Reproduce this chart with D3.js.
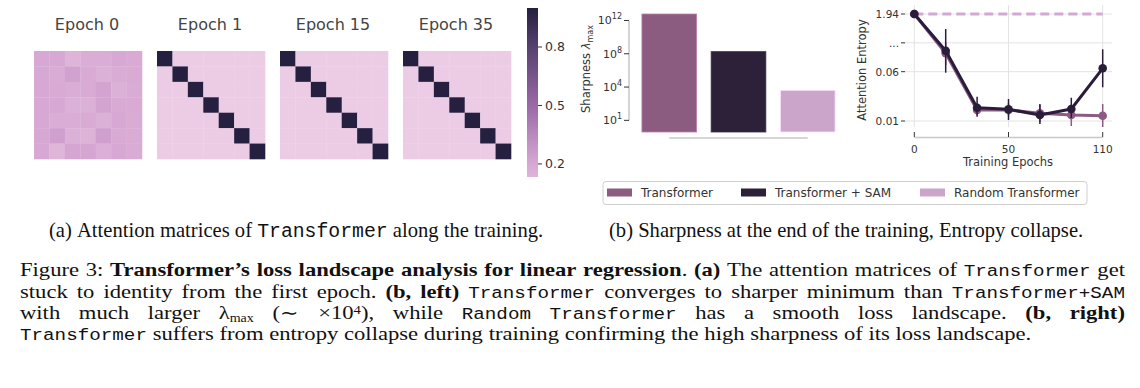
<!DOCTYPE html>
<html><head><meta charset="utf-8">
<script src="https://cdn.jsdelivr.net/npm/d3@7"></script>
<style>body{margin:0;background:#fff} svg{display:block}</style>
</head><body><svg id="fig" width="1140" height="388"></svg>
<script>
// ---------------- DATA ----------------
const heatTitles = ["Epoch 0", "Epoch 1", "Epoch 15", "Epoch 35"];
const attnEpoch0 = [
  [0.20,0.20,0.13,0.17,0.17,0.20,0.19],
  [0.20,0.18,0.23,0.19,0.15,0.18,0.19],
  [0.20,0.19,0.17,0.19,0.22,0.15,0.18],
  [0.20,0.20,0.15,0.15,0.22,0.19,0.19],
  [0.20,0.17,0.17,0.19,0.15,0.20,0.18],
  [0.20,0.24,0.15,0.14,0.24,0.19,0.18],
  [0.20,0.12,0.21,0.21,0.16,0.20,0.18]
];
const attnEpoch1 = [
  [1,0,0,0,0,0,0],[0,1,0,0,0,0,0],[0,0,1,0,0,0,0],[0,0,0,1,0,0,0],
  [0,0,0,0,1,0,0],[0,0,0,0,0,1,0],[0,0,0,0,0,0,1]
];
const attnEpoch15 = [
  [1,0,0,0,0,0,0],[0,1,0,0,0,0,0],[0,0,1,0,0,0,0],[0,0,0,1,0,0,0],
  [0,0,0,0,1,0,0],[0,0,0,0,0,1,0],[0,0,0,0,0,0,1]
];
const attnEpoch35 = [
  [1,0,0,0,0,0,0],[0,1,0,0,0,0,0],[0,0,1,0,0,0,0],[0,0,0,1,0,0,0],
  [0,0,0,0,1,0,0],[0,0,0,0,0,1,0],[0,0,0,0,0,0,1]
];
const colorbarDomain = [0.133, 1.0];
const colorbarTicks = [0.2, 0.5, 0.8];

const models = ["Transformer", "Transformer + SAM", "Random Transformer"];
const sharpness = [6.0e12, 1.8e8, 4.1e3];
const sharpTickValues = [1, 1e4, 1e8, 1e12];
const sharpTickExponents = ["1", "4", "8", "12"];

const epochs = [0, 15, 35, 50, 70, 90, 110];
const entropyTransformer   = [1.94, 0.66, 0.0212, 0.0212, 0.0178, 0.0161, 0.0154];
const entropyTransformerLo = [1.94, 0.278, 0.0161, 0.0150, 0.0090, 0.0049, 0.0039];
const entropyTransformerHi = [1.94, 1.005, 0.0283, 0.0280, 0.0262, 0.0252, 0.0272];
const entropySAM   = [1.94, 0.744, 0.0235, 0.0219, 0.0161, 0.0222, 0.171];
const entropySAMLo = [1.94, 0.059, 0.0144, 0.0110, 0.0070, 0.0130, 0.0442];
const entropySAMHi = [1.94, 1.451, 0.0346, 0.0323, 0.0272, 0.0336, 0.79];
const entropyRandom = [1.94, 1.94, 1.94, 1.94, 1.94, 1.94, 1.94];
const entropyTickValues = [1.94, 1.0, 0.06, 0.01];
const entropyTickLabels = ["1.94", "...", "0.06", "0.01"];
const epochTickValues = [0, 50, 110];

// ---------------- STYLE ----------------
const svg = d3.select("#fig");
svg.append("rect").attr("width",1140).attr("height",388).attr("fill","#fff");
const SANS = "DejaVu Sans";
const textCol = "#333";
const modelColors = ["#8b5b80", "#2d2039", "#cba5ca"];
const lineColors  = ["#8c5a82", "#2a1d3b", "#d4a8d4"];

const heatColor = d3.scaleLinear()
  .domain([0, 0.2, 0.5, 0.8, 1.0])
  .range(["#eccbe5", "#d7a8d3", "#9a69a7", "#56416f", "#262040"])
  .clamp(true);

// ---------------- HEATMAPS ----------------
const mats = [attnEpoch0, attnEpoch1, attnEpoch15, attnEpoch35];
const cell = d3.scaleBand().domain(d3.range(7)).range([0, 108]);
mats.forEach((m, k) => {
  const g = svg.append("g").attr("transform", `translate(${34 + k*123},51)`);
  m.forEach((row, i) => row.forEach((v, j) => {
    g.append("rect").attr("x", cell(j)).attr("y", cell(i))
      .attr("width", cell.bandwidth()+0.3).attr("height", cell.bandwidth()+0.3)
      .attr("fill", heatColor(v));
  }));
  svg.append("text").attr("x", 34 + k*123 + 53).attr("y", 29.5)
    .attr("text-anchor","middle").attr("font-family",SANS).attr("font-size",16)
    .attr("fill","#444").text(heatTitles[k]);
});

// colorbar
const cbY = d3.scaleLinear().domain(colorbarDomain).range([177, 8]);
const defs = svg.append("defs");
const grad = defs.append("linearGradient").attr("id","cbgrad").attr("x1",0).attr("x2",0).attr("y1",1).attr("y2",0);
d3.range(0, 1.0001, 0.05).forEach(t => {
  const v = colorbarDomain[0] + t*(colorbarDomain[1]-colorbarDomain[0]);
  grad.append("stop").attr("offset", t).attr("stop-color", heatColor(v));
});
svg.append("rect").attr("x",527).attr("y",8).attr("width",11).attr("height",169).attr("fill","url(#cbgrad)");
colorbarTicks.forEach(t => {
  svg.append("line").attr("x1",538).attr("x2",542).attr("y1",cbY(t)).attr("y2",cbY(t)).attr("stroke","#333").attr("stroke-width",1);
  svg.append("text").attr("x",545).attr("y",cbY(t)).attr("dominant-baseline","central")
    .attr("font-family",SANS).attr("font-size",12.5).attr("fill",textCol).text(t.toFixed(1));
});

// ---------------- BAR CHART ----------------
const bx = d3.scaleBand().domain(models).range([635, 842]).paddingInner(0.21).paddingOuter(0.1);
const by = d3.scaleLog().domain([Math.pow(10,-1.4), Math.pow(10,13.5)]).range([132, 8]);
models.forEach((m, i) => {
  svg.append("rect").attr("x", bx(m)).attr("y", by(sharpness[i]))
    .attr("width", bx.bandwidth()).attr("height", by.range()[0] - by(sharpness[i]))
    .attr("fill", modelColors[i])
    .attr("stroke", d3.color(modelColors[i]).brighter(0.9)).attr("stroke-width",0.8);
});
svg.append("line").attr("x1",629).attr("x2",629).attr("y1",by(1e12)).attr("y2",by(1))
  .attr("stroke","#aaa").attr("stroke-width",1);
sharpTickValues.forEach((v, i) => {
  svg.append("line").attr("x1",624).attr("x2",629).attr("y1",by(v)).attr("y2",by(v)).attr("stroke","#333");
  const t = svg.append("text").attr("x",622).attr("y",by(v)+4).attr("text-anchor","end")
    .attr("font-family",SANS).attr("font-size",11).attr("fill",textCol);
  t.append("tspan").text("10");
  t.append("tspan").attr("dy",-5).attr("font-size",8).text(sharpTickExponents[i]);
});
svg.append("line").attr("x1", bx(models[0]) + bx.bandwidth()/2).attr("x2", bx(models[2]) + bx.bandwidth()/2)
  .attr("y1",138).attr("y2",138).attr("stroke","#c8c8c8").attr("stroke-width",1.5);
{
  const t = svg.append("text").attr("transform","translate(590,69) rotate(-90)").attr("text-anchor","middle")
    .attr("font-family",SANS).attr("font-size",11.5).attr("fill",textCol);
  t.append("tspan").text("Sharpness  ");
  t.append("tspan").attr("font-style","italic").text("λ");
  t.append("tspan").attr("font-size",8).attr("dy",3).text("max");
}

// ---------------- LINE CHART ----------------
const lx = d3.scalePoint().domain(epochs).range([914.3, 1102.7]);
const ly = d3.scaleLinear().domain([0.01, 0.06, 1.94]).range([121, 71.7, 14]);
entropyTickValues.forEach(v => {
  svg.append("line").attr("x1",905).attr("x2",1112).attr("y1",ly(v)).attr("y2",ly(v)).attr("stroke","#e3e3e3").attr("stroke-width",1);
});
epochTickValues.forEach(e => {
  svg.append("line").attr("x1",lx(e)).attr("x2",lx(e)).attr("y1",5).attr("y2",127).attr("stroke","#e3e3e3").attr("stroke-width",1);
});
entropyTickValues.forEach((v, i) => {
  svg.append("line").attr("x1",901).attr("x2",905).attr("y1",ly(v)).attr("y2",ly(v)).attr("stroke","#333");
  svg.append("text").attr("x",899).attr("y",ly(v)).attr("dominant-baseline","central").attr("text-anchor","end")
    .attr("font-family",SANS).attr("font-size",10.5).attr("fill",textCol).text(entropyTickLabels[i]);
});
svg.append("line").attr("x1",lx(0)).attr("x2",lx(110)).attr("y1",137.5).attr("y2",137.5).attr("stroke","#c8c8c8").attr("stroke-width",1.5);
epochTickValues.forEach(e => {
  svg.append("line").attr("x1",lx(e)).attr("x2",lx(e)).attr("y1",132).attr("y2",137).attr("stroke","#333");
  svg.append("text").attr("x",lx(e)).attr("y",153).attr("text-anchor","middle")
    .attr("font-family",SANS).attr("font-size",10.5).attr("fill",textCol).text(e);
});
svg.append("text").attr("x",1008).attr("y",165.5).attr("text-anchor","middle")
  .attr("font-family",SANS).attr("font-size",11.5).attr("fill",textCol).text("Training Epochs");
svg.append("text").attr("transform","translate(866,70) rotate(-90)").attr("text-anchor","middle")
  .attr("font-family",SANS).attr("font-size",11.5).attr("fill",textCol).text("Attention Entropy");

const line = d3.line().x((d,i) => lx(epochs[i])).y(d => ly(d));
svg.append("path").attr("d", line(entropyRandom)).attr("fill","none")
  .attr("stroke", lineColors[2]).attr("stroke-width",3).attr("stroke-dasharray","9,5");

function series(vals, lo, hi, col) {
  epochs.forEach((e, i) => {
    svg.append("line").attr("x1",lx(e)).attr("x2",lx(e)).attr("y1",ly(lo[i])).attr("y2",ly(hi[i]))
      .attr("stroke",col).attr("stroke-width",1.5);
  });
  svg.append("path").attr("d", line(vals)).attr("fill","none").attr("stroke",col).attr("stroke-width",3)
    .attr("stroke-linejoin","round");
  epochs.forEach((e, i) => {
    svg.append("circle").attr("cx",lx(e)).attr("cy",ly(vals[i])).attr("r",4.3).attr("fill",col);
  });
}
series(entropyTransformer, entropyTransformerLo, entropyTransformerHi, lineColors[0]);
series(entropySAM, entropySAMLo, entropySAMHi, lineColors[1]);

// ---------------- LEGEND ----------------
svg.append("rect").attr("x",603).attr("y",181.5).attr("width",484).attr("height",23).attr("rx",3)
  .attr("fill","#fff").attr("stroke","#cfcfcf").attr("stroke-width",1);
const legendX = [607, 741, 920];
models.forEach((m, i) => {
  svg.append("rect").attr("x",legendX[i]).attr("y",188.5).attr("width",25).attr("height",8).attr("fill",modelColors[i]);
  svg.append("text").attr("x",legendX[i]+34).attr("y",192.5).attr("dominant-baseline","central")
    .attr("font-family",SANS).attr("font-size",12).attr("fill",textCol).text(m);
});

// ---------------- CAPTIONS ----------------
const fontMap = {
  r: {family:"Liberation Serif", weight:400},
  b: {family:"Liberation Serif", weight:700},
  m: {family:"Liberation Mono", weight:400}
};
const R = t => ({parts:[{t, f:"r"}]});
const B = t => ({parts:[{t, f:"b"}]});
const M = t => ({parts:[{t, f:"m"}]});
const words = (s, f) => s.split(" ").map(w => ({parts:[{t:w, f}]}));
function J(tok){ tok.join = true; return tok; }

function buildLine(parent, tokens, y, fs, monoK) {
  const els = tokens.map(tok => {
    const t = parent.append("text").attr("y", y).attr("font-size", fs).attr("fill", "#111");
    let cur = 0;
    tok.parts.forEach(p => {
      const fm = fontMap[p.f];
      const k = p.s || (p.f === "m" ? monoK : 1);
      const ts = t.append("tspan").text(p.t).attr("font-family", fm.family).attr("font-weight", fm.weight)
        .attr("font-size", fs * k);
      const want = (p.dy || 0) * fs;
      if (want !== cur) { ts.attr("dy", want - cur); cur = want; }
    });
    return t;
  });
  const widths = els.map(e => e.node().getComputedTextLength());
  const nGaps = tokens.filter((t, i) => i > 0 && !t.join).length;
  return {els, widths, tokens, nGaps, fs, natural: d3.sum(widths) + nGaps * fs * 0.25};
}
function placeLine(L, x0, width) {
  const gap = width != null ? (width - d3.sum(L.widths)) / L.nGaps : L.fs * 0.25;
  let x = x0;
  L.els.forEach((e, i) => {
    if (i > 0 && !L.tokens[i].join) x += gap;
    e.attr("x", x);
    x += L.widths[i];
  });
}

// sub-captions
const subFS = 20.6;
const subA = buildLine(svg, [...words("(a) Attention matrices of", "r"), M("Transformer"), ...words("along the training.", "r")], 237, subFS, 0.96);
placeLine(subA, 49, null);
const subB = buildLine(svg, words("(b) Sharpness at the end of the training, Entropy collapse.", "r"), 237, subFS, 0.96);
placeLine(subB, 609, null);

// figure caption
const capFS = 18.5;
const capG = svg.append("g");
const capLine1 = [...words("Figure 3:", "r"), ...words("Transformer’s loss landscape analysis for linear regression", "b"),
  J(R(".")), B("(a)"), ...words("The attention matrices of", "r"), M("Transformer"), R("get")];
const capLine2 = [...words("stuck to identity from the first epoch.", "r"), ...words("(b, left)", "b"), M("Transformer"),
  ...words("converges to sharper minimum than", "r"), M("Transformer+SAM")];
const lambdaTok = {parts:[{t:"λ", f:"r"}, {t:"max", f:"r", s:0.62, dy:0.13}]};
const powTok = {parts:[{t:"×10", f:"r"}, {t:"4", f:"r", s:0.65, dy:-0.3}, {t:"),", f:"r", dy:0}]};
const capLine3 = [...words("with much larger", "r"), lambdaTok, R("(∼"), powTok, R("while"), M("Random"), M("Transformer"),
  ...words("has a smooth loss landscape.", "r"), ...words("(b, right)", "b")];
const capLine4 = [M("Transformer"), ...words("suffers from entropy collapse during training confirming the high sharpness of its loss landscape.", "r")];
const monoK = 0.85;
const L1 = buildLine(capG, capLine1, 276.5, capFS, monoK);
const L2 = buildLine(capG, capLine2, 297.8, capFS, monoK);
const L3 = buildLine(capG, capLine3, 319.1, capFS, monoK);
const L4 = buildLine(capG, capLine4, 340.4, capFS, monoK);
const sx = 1090 / L1.natural;
placeLine(L1, 0, 1105 / sx);
placeLine(L2, 0, 1105 / sx);
placeLine(L3, 0, 1105 / sx);
placeLine(L4, 0, null);
capG.attr("transform", `translate(20,0) scale(${sx},1)`);
</script>
</body></html>
